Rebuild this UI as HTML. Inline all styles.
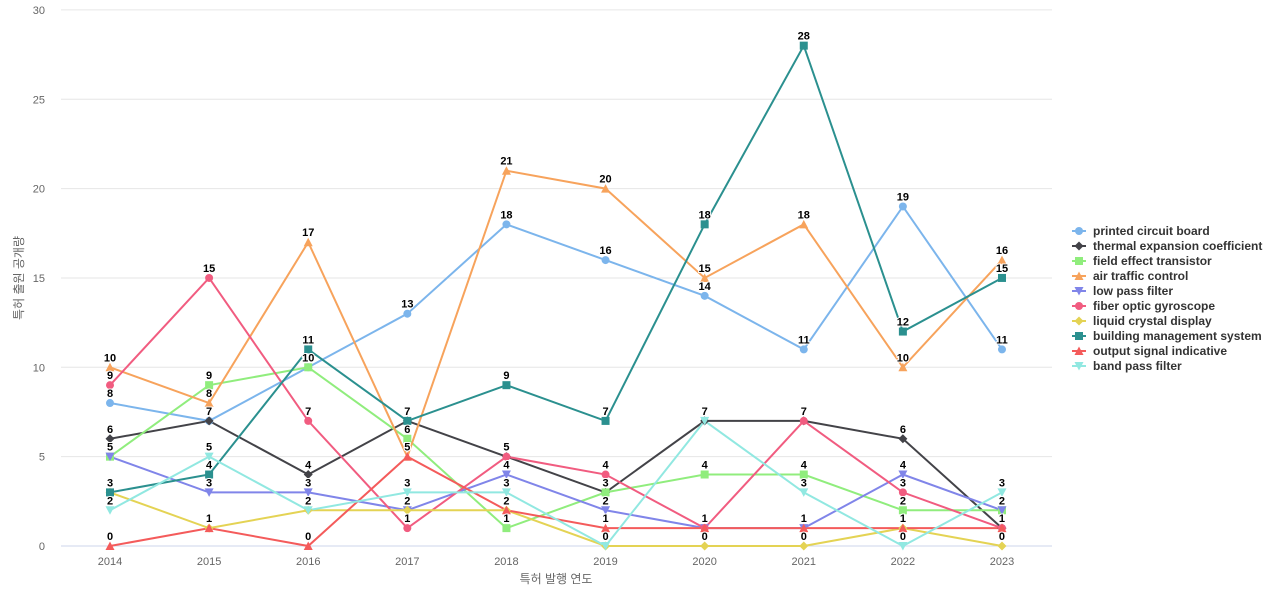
<!DOCTYPE html>
<html><head><meta charset="utf-8"><style>
body{margin:0;background:#fff;}
svg{font-family:"Liberation Sans","Noto Sans CJK KR",sans-serif;}
</style></head><body>
<svg id="c" width="1280" height="600" xmlns="http://www.w3.org/2000/svg"></svg>
<script>
const S=document.getElementById('c');
const ns='http://www.w3.org/2000/svg';
function el(t,a,txt){const e=document.createElementNS(ns,t);for(const k in a)e.setAttribute(k,a[k]);if(txt!==undefined)e.textContent=txt;S.appendChild(e);return e;}
const X=i=>110+i*99.11, Y=v=>546-v*17.87;
for(let v=0;v<=30;v+=5){
  el('line',{x1:61,x2:1052,y1:Y(v),y2:Y(v),stroke:v?'#e6e6e6':'#ccd6eb','stroke-width':1});
  el('text',{x:45,y:Y(v)+4,'text-anchor':'end','font-size':11,fill:'#666'},v);
}
for(let i=0;i<10;i++) el('text',{x:X(i),y:565,'text-anchor':'middle','font-size':11,fill:'#666'},2014+i);
el('text',{x:556,y:583,'text-anchor':'middle','font-size':12,fill:'#666'},'특허 발행 연도');
el('text',{x:0,y:0,transform:'translate(23,278) rotate(-90)','text-anchor':'middle','font-size':12,fill:'#666'},'특허 출원 공개량');
const series=[
['printed circuit board','#7cb5ec','c',[8,7,10,13,18,16,14,11,19,11]],
['thermal expansion coefficient','#434348','d',[6,7,4,7,5,3,7,7,6,1]],
['field effect transistor','#90ed7d','s',[5,9,10,6,1,3,4,4,2,2]],
['air traffic control','#f7a35c','t',[10,8,17,5,21,20,15,18,10,16]],
['low pass filter','#8085e9','v',[5,3,3,2,4,2,1,1,4,2]],
['fiber optic gyroscope','#f15c80','c',[9,15,7,1,5,4,1,7,3,1]],
['liquid crystal display','#e4d354','d',[3,1,2,2,2,0,0,0,1,0]],
['building management system','#2b908f','s',[3,4,11,7,9,7,18,28,12,15]],
['output signal indicative','#f45b5b','t',[0,1,0,5,2,1,1,1,1,1]],
['band pass filter','#91e8e1','v',[2,5,2,3,3,0,7,3,0,3]]];
function marker(sh,x,y,c){
  if(sh=='c')el('circle',{cx:x,cy:y,r:4,fill:c});
  else if(sh=='s')el('rect',{x:x-4,y:y-4,width:8,height:8,fill:c});
  else if(sh=='d')el('path',{d:`M${x} ${y-4.5}L${x+4.5} ${y}L${x} ${y+4.5}L${x-4.5} ${y}Z`,fill:c});
  else if(sh=='t')el('path',{d:`M${x} ${y-4.5}L${x+4.5} ${y+4}L${x-4.5} ${y+4}Z`,fill:c});
  else el('path',{d:`M${x} ${y+4.5}L${x+4.5} ${y-4}L${x-4.5} ${y-4}Z`,fill:c});
}
series.forEach(s=>{
  el('polyline',{points:s[3].map((v,i)=>X(i)+','+Y(v)).join(' '),fill:'none',stroke:s[1],'stroke-width':2});
});
series.forEach(s=>{s[3].forEach((v,i)=>marker(s[2],X(i),Y(v),s[1]));});
series.forEach(s=>{s[3].forEach((v,i)=>el('text',{x:X(i),y:Y(v)-6,'text-anchor':'middle','font-size':11,'font-weight':'bold',fill:'#000',stroke:'#fff','stroke-width':2,'paint-order':'stroke'},v));});
series.forEach((s,k)=>{
  const y=231+k*15;
  el('line',{x1:1072,x2:1086,y1:y,y2:y,stroke:s[1],'stroke-width':2});
  marker(s[2],1079,y,s[1]);
  el('text',{x:1093,y:y+4,'font-size':12,'font-weight':'bold',fill:'#333'},s[0]);
});
</script>
</body></html>
